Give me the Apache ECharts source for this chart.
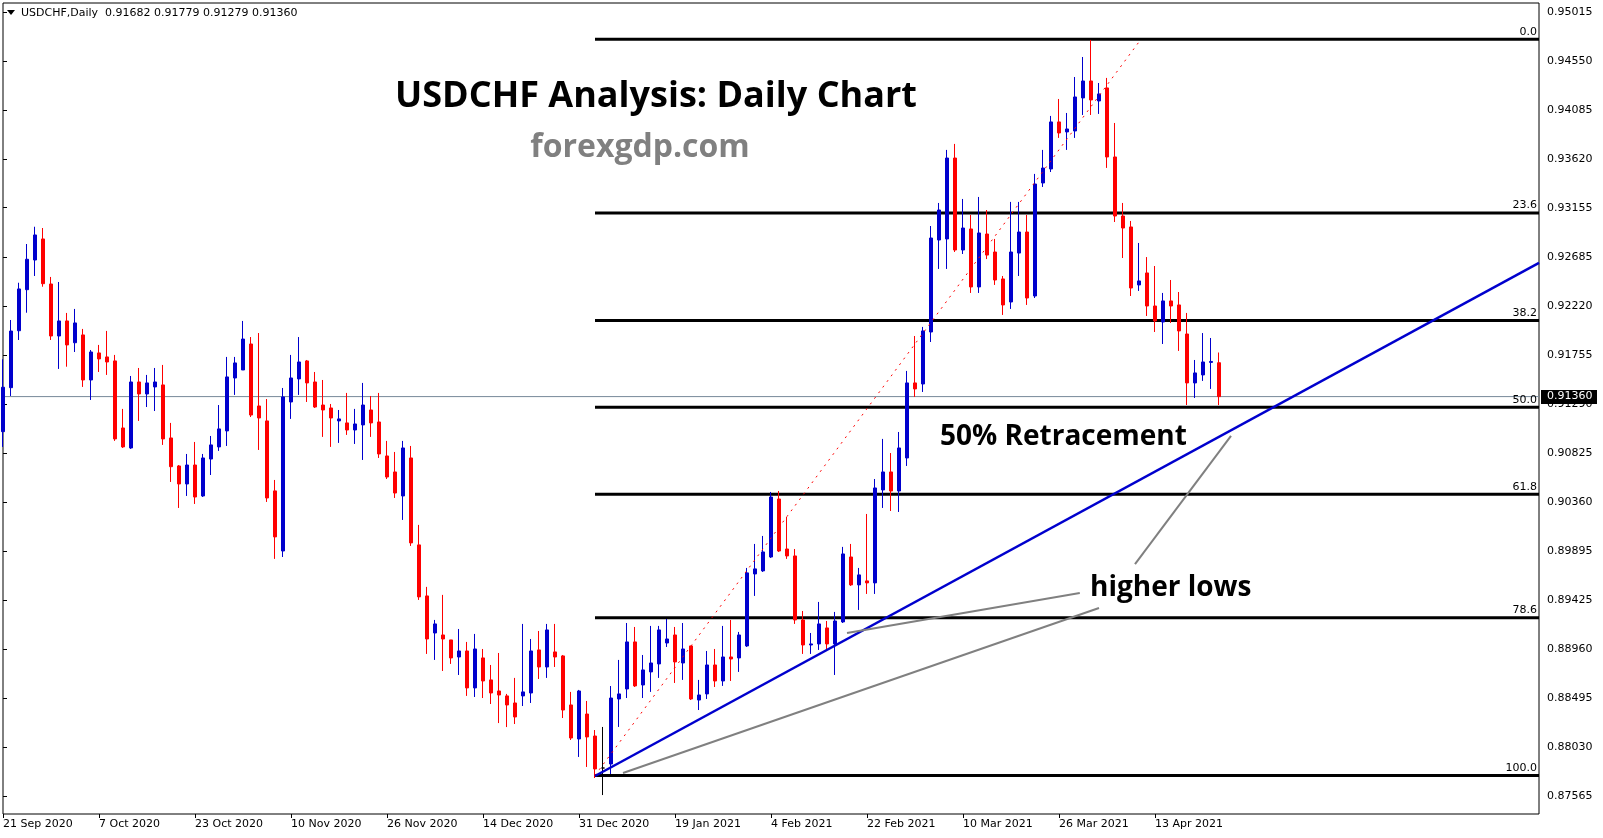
<!DOCTYPE html>
<html><head><meta charset="utf-8">
<script src="https://cdn.jsdelivr.net/npm/echarts@6/dist/echarts.min.js"></script>
<style>html,body{margin:0;padding:0;background:#fff;overflow:hidden}#c{width:1603px;height:838px}</style>
</head><body><div id="c"></div>
<script>
// ---------- data ----------
const symbolName = 'USDCHF,Daily';
const dateLabels = ['21 Sep 2020','7 Oct 2020','23 Oct 2020','10 Nov 2020','26 Nov 2020','14 Dec 2020','31 Dec 2020','19 Jan 2021','4 Feb 2021','22 Feb 2021','10 Mar 2021','26 Mar 2021','13 Apr 2021'];
const dateLabelBars = [0,12,24,36,48,60,72,84,96,108,120,132,144];
const lastSlot = 192; // chart extends to the right of the last bar
const priceTicks = [0.87565,0.88030,0.88495,0.88960,0.89425,0.89895,0.90360,0.90825,0.91290,0.91755,0.92220,0.92685,0.93155,0.93620,0.94085,0.94550,0.95015];
const priceMin = 0.87394, priceMax = 0.95100;
// [open, close, low, high] per daily bar
const candles = [
[0.91027,0.91449,0.90882,0.91715],[0.91445,0.91983,0.91366,0.92088],[0.91986,0.92383,0.91898,0.92442],[0.92376,0.92665,0.92157,0.92810],[0.92658,0.92896,0.92506,0.92974],
[0.92858,0.92433,0.92404,0.92962],[0.92430,0.91936,0.91898,0.92497],[0.91936,0.92079,0.91623,0.92449],[0.92079,0.91851,0.91644,0.92155],[0.91872,0.92060,0.91784,0.92193],
[0.91946,0.91518,0.91452,0.92003],[0.91518,0.91784,0.91328,0.91803],[0.91775,0.91718,0.91594,0.91851],[0.91737,0.91689,0.91566,0.91984],[0.91699,0.90958,0.90939,0.91756],
[0.91062,0.90882,0.90872,0.91243],[0.90872,0.91499,0.90863,0.91556],[0.91499,0.91385,0.91129,0.91632],[0.91385,0.91490,0.91261,0.91566],[0.91452,0.91499,0.91223,0.91632],
[0.91471,0.90958,0.90901,0.91661],[0.90967,0.90694,0.90549,0.91110],[0.90701,0.90530,0.90302,0.90710],[0.90530,0.90710,0.90416,0.90815],[0.90710,0.90406,0.90340,0.90929],
[0.90416,0.90777,0.90406,0.90815],[0.90767,0.90901,0.90615,0.90986],[0.90882,0.91053,0.90844,0.91280],[0.91034,0.91547,0.90891,0.91737],[0.91537,0.91680,0.91376,0.91737],
[0.91613,0.91907,0.91613,0.92079],[0.91860,0.91185,0.91166,0.91926],[0.91271,0.91157,0.90853,0.91964],[0.91129,0.90397,0.90359,0.91337],[0.90464,0.90027,0.89818,0.90568],
[0.89893,0.91357,0.89836,0.91442],[0.91309,0.91537,0.91148,0.91756],[0.91528,0.91689,0.91376,0.91926],[0.91699,0.91490,0.91309,0.91708],[0.91499,0.91261,0.91252,0.91594],
[0.91280,0.91233,0.90977,0.91518],[0.91252,0.91157,0.90882,0.91290],[0.91129,0.91148,0.90920,0.91233],[0.91110,0.91043,0.90996,0.91395],[0.91043,0.91100,0.90910,0.91243],
[0.91091,0.91280,0.90758,0.91490],[0.91233,0.91110,0.90977,0.91366],[0.91119,0.90815,0.90777,0.91395],[0.90796,0.90596,0.90577,0.90939],[0.90644,0.90444,0.90397,0.90834],
[0.90416,0.90872,0.90188,0.90939],[0.90777,0.89970,0.89941,0.90891],[0.89951,0.89457,0.89428,0.90141],[0.89466,0.89057,0.88915,0.89552],[0.89114,0.89200,0.88858,0.89238],
[0.89095,0.89057,0.88753,0.89476],[0.89048,0.88877,0.88820,0.89048],[0.88886,0.88943,0.88715,0.89152],[0.88943,0.88592,0.88516,0.89029],[0.88592,0.88962,0.88506,0.89105],
[0.88877,0.88658,0.88496,0.88962],[0.88668,0.88544,0.88439,0.88810],[0.88563,0.88525,0.88258,0.88924],[0.88516,0.88430,0.88220,0.88535],[0.88449,0.88316,0.88249,0.88687],
[0.88516,0.88554,0.88420,0.89200],[0.88544,0.88943,0.88449,0.89057],[0.88953,0.88791,0.88677,0.89133],[0.88791,0.89143,0.88687,0.89200],[0.88934,0.88886,0.88791,0.89200],
[0.88896,0.88382,0.88306,0.88905],[0.88430,0.88116,0.88097,0.88554],[0.88107,0.88563,0.87936,0.88573],[0.88344,0.88126,0.87841,0.88468],[0.88135,0.87822,0.87736,0.88192],
[0.87831,0.87831,0.87574,0.88221],[0.87869,0.88496,0.87774,0.88610],[0.88487,0.88535,0.88221,0.88858],[0.88582,0.89029,0.88496,0.89209],[0.89029,0.88611,0.88601,0.89171],
[0.88620,0.88763,0.88496,0.88905],[0.88744,0.88829,0.88554,0.89181],[0.88820,0.89143,0.88687,0.89181],[0.89019,0.89057,0.88981,0.89247],[0.89095,0.88839,0.88639,0.89171],
[0.88829,0.88962,0.88668,0.89209],[0.88991,0.88487,0.88477,0.88991],[0.88477,0.88525,0.88382,0.88668],[0.88535,0.88810,0.88487,0.88943],[0.88810,0.88658,0.88601,0.88962],
[0.88658,0.88886,0.88611,0.89181],[0.88886,0.88867,0.88658,0.89238],[0.88877,0.89095,0.88744,0.89124],[0.88991,0.89685,0.88981,0.89732],[0.89675,0.89723,0.89466,0.89960],
[0.89704,0.89884,0.89694,0.90036],[0.89836,0.90406,0.89827,0.90454],[0.90387,0.89893,0.89884,0.90463],[0.89912,0.89846,0.89818,0.90216],[0.89846,0.89238,0.89200,0.89912],
[0.89238,0.89000,0.88915,0.89323],[0.89000,0.89010,0.88915,0.89114],[0.89010,0.89200,0.88953,0.89409],[0.89162,0.89010,0.88943,0.89228],[0.89010,0.89228,0.88715,0.89314],
[0.89219,0.89865,0.89209,0.89932],[0.89836,0.89571,0.89561,0.89960],[0.89571,0.89666,0.89333,0.89732],[0.89609,0.89590,0.89485,0.90245],[0.89590,0.90492,0.89485,0.90577],
[0.90473,0.90644,0.90302,0.90958],[0.90644,0.90463,0.90273,0.90824],[0.90463,0.90872,0.90264,0.91024],[0.90777,0.91490,0.90701,0.91604],[0.91490,0.91433,0.91357,0.91936],
[0.91480,0.91984,0.91404,0.92022],[0.91974,0.92867,0.91879,0.92981],[0.92848,0.93133,0.92573,0.93200],[0.92858,0.93627,0.92573,0.93704],[0.93627,0.92753,0.92734,0.93761],
[0.92753,0.92962,0.92715,0.93238],[0.92953,0.92402,0.92345,0.93086],[0.92402,0.92915,0.92345,0.93257],[0.92905,0.92705,0.92667,0.93133],[0.92734,0.92468,0.92421,0.92858],
[0.92478,0.92231,0.92136,0.92506],[0.92259,0.92734,0.92193,0.93210],[0.92724,0.92924,0.92506,0.93210],[0.92924,0.92297,0.92231,0.93086],[0.92316,0.93380,0.92297,0.93476],
[0.93390,0.93532,0.93352,0.93704],[0.93523,0.93970,0.93494,0.94027],[0.93970,0.93865,0.93818,0.94188],[0.93875,0.93903,0.93704,0.94055],[0.93884,0.94207,0.93818,0.94397],
[0.94198,0.94359,0.94036,0.94587],[0.94359,0.94179,0.94036,0.94749],[0.94169,0.94236,0.94046,0.94340],[0.94293,0.93637,0.93533,0.94388],[0.93637,0.93076,0.93019,0.93960],
[0.93076,0.92962,0.92677,0.93200],[0.92972,0.92392,0.92316,0.93029],[0.92421,0.92459,0.92364,0.92820],[0.92535,0.92221,0.92126,0.92686],[0.92221,0.92079,0.91974,0.92601],
[0.92069,0.92269,0.91860,0.92345],[0.92269,0.92221,0.92060,0.92468],[0.92231,0.91984,0.91794,0.92354],[0.91955,0.91490,0.91280,0.92155],[0.91490,0.91585,0.91347,0.91708],
[0.91566,0.91689,0.91509,0.91964],[0.91685,0.91694,0.91433,0.91917],[0.91682,0.91360,0.91279,0.91779]
];
const dojiBars = [75];
const fibNames = ['0.0','23.6','38.2','50.0','61.8','78.6','100.0'];
const fibPrices = [0.94756,0.93105,0.92084,0.91259,0.90433,0.89258,0.87761];
const fibStartBar = 74;
const fibDiagonal = [[74,0.87761],[142.25,0.94756]];
const trendLine = [[74,0.87755],[192,0.92630]];
const pointerLines = [
  [[105.5,0.89114],[134.6,0.89494]],
  [[77.5,0.87783],[137,0.89351]],
  [[141.5,0.89769],[153.5,0.90986]]
];
const lastPrice = candles[candles.length-1][1];

// ---------- chart ----------
const BULL = '#0000CD', BEAR = '#FF0000';
const MT = '"DejaVu Sans", Verdana, sans-serif';
const chart = echarts.init(document.getElementById('c'), null, {renderer:'canvas'});

const candleData = candles.map((d,i) => {
  const v = [i, d[0], d[1], d[2], d[3]];
  if (dojiBars.includes(i)) return {value:v, itemStyle:{color:'#000',color0:'#000',borderColor:'#000',borderColor0:'#000',borderColorDoji:'#000'}};
  return v;
});

const lineSeries = (data, color, width, type, z) => ({
  type:'line', data, xAxisIndex:0, yAxisIndex:0, symbol:'none', silent:true, z,
  lineStyle:{color, width, type}, animation:false
});

const series = [];
fibPrices.forEach(p => series.push(lineSeries([[fibStartBar,p],[lastSlot,p]], '#000', 3, 'solid', 2)));
series.push(lineSeries([[0,lastPrice],[lastSlot,lastPrice]], '#778899', 1, 'solid', 2));
series.push({
  type:'candlestick', data:candleData, encode:{x:0, y:[1,2,3,4]}, barWidth:4, z:3,
  itemStyle:{color:BULL, color0:BEAR, borderColor:BULL, borderColor0:BEAR, borderColorDoji:'#000', borderWidth:1},
  animation:false, silent:true
});
series.push(lineSeries(fibDiagonal, '#FF0000', 1, [2,5], 4));
series.push(lineSeries(trendLine, BULL, 2.5, 'solid', 4));
pointerLines.forEach(l => series.push(lineSeries(l, '#808080', 2, 'solid', 4)));

chart.setOption({
  animation:false,
  backgroundColor:'#fff',
  grid:{left:3, right:64, top:3, bottom:24, show:true, borderColor:'#000', borderWidth:1, backgroundColor:'#fff'},
  xAxis:{
    type:'value', min:0, max:lastSlot, interval:12,
    axisLine:{show:false}, splitLine:{show:false},
    axisTick:{show:true, customValues:dateLabelBars, length:4, lineStyle:{color:'#000'}},
    axisLabel:{customValues:dateLabelBars, align:'left', margin:5, color:'#000', fontFamily:MT, fontSize:11,
      formatter:v => { const k = dateLabelBars.indexOf(Math.round(v)); return k >= 0 ? dateLabels[k] : ''; }}
  },
  yAxis:{
    type:'value', position:'right', min:priceMin, max:priceMax, scale:true,
    axisLine:{show:false}, splitLine:{show:false},
    axisTick:{show:true, customValues:priceTicks, length:4, lineStyle:{color:'#000'}},
    axisLabel:{customValues:priceTicks, align:'left', margin:8, color:'#000', fontFamily:MT, fontSize:11,
      formatter:v => v.toFixed(5)}
  },
  series
});

// overlay texts positioned through the chart's own scales
const px = (x,y) => chart.convertToPixel({xAxisIndex:0, yAxisIndex:0}, [x,y]);
const last = candles[candles.length-1];
const rightEdge = px(lastSlot, lastPrice)[0];
const g = [];
const txt = (x,y,text,font,fill,align,va,z) => ({type:'text', x, y, z:z||10,
  style:{text, font, fill, align, verticalAlign:va, textAlign:align, textVerticalAlign:va}});

g.push({type:'polygon', z:10, shape:{points:[[7,10],[15,10],[11,15]]}, style:{fill:'#000'}});
g.push(txt(21, 13, symbolName + '  ' + [last[0], last[3], last[2], last[1]].map(v=>v.toFixed(5)).join(' '), '11px ' + MT, '#000', 'left', 'middle'));
g.push(txt(656, 97, 'USDCHF Analysis: Daily Chart', 'bold 36px "Open Sans"', '#000', 'center', 'middle'));
g.push(txt(640, 148, 'forexgdp.com', 'bold 32px "Open Sans"', '#808080', 'center', 'middle'));
g.push(txt(940, 437, '50% Retracement', 'bold 28px "Open Sans"', '#000', 'left', 'middle'));
g.push(txt(1090, 588, 'higher lows', 'bold 28px "Open Sans"', '#000', 'left', 'middle'));
fibPrices.forEach((p,i) => {
  const y = px(lastSlot, p)[1];
  g.push(txt(rightEdge - 2, y - 2, fibNames[i], '11px ' + MT, '#000', 'right', 'bottom'));
});
const lp = px(lastSlot, lastPrice);
g.push({type:'rect', z:20, shape:{x:rightEdge + 2, y:Math.round(lp[1]) - 7, width:56, height:14}, style:{fill:'#000'}});
g.push(txt(rightEdge + 8, lp[1], lastPrice.toFixed(5), '11px ' + MT, '#fff', 'left', 'middle', 21));

chart.setOption({graphic:{elements:g}});
</script>
</body></html>
